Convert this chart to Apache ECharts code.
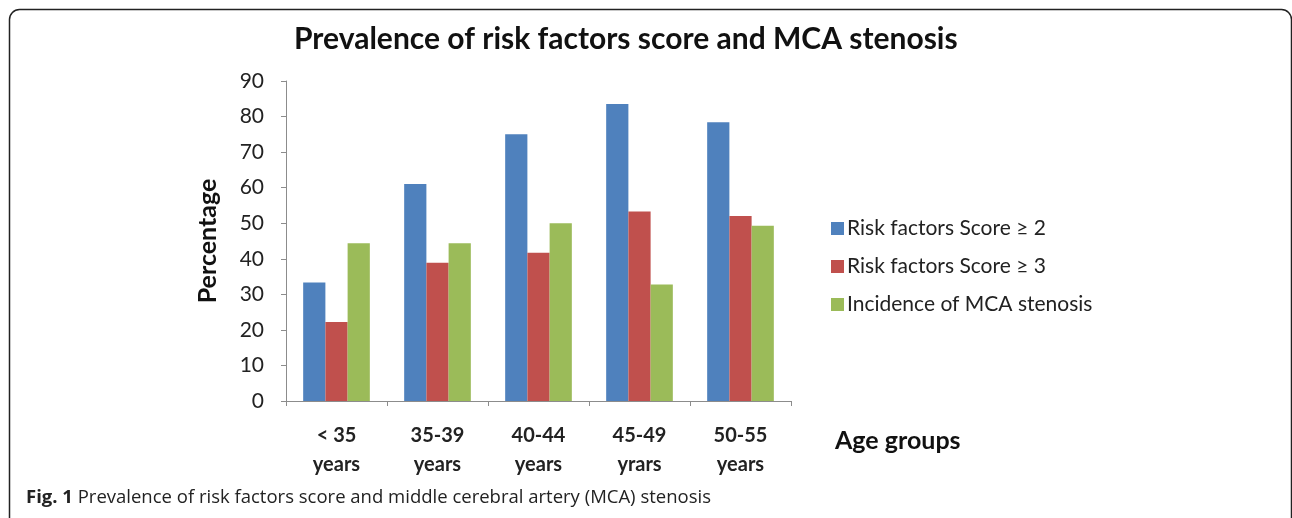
<!DOCTYPE html>
<html>
<head>
<meta charset="utf-8">
<style>
    html, body { margin: 0; padding: 0; background: #fff; }
    #chart { width: 1292px; height: 518px; }
</style>
<script src="https://cdn.jsdelivr.net/npm/echarts@6/dist/echarts.min.js"></script>
</head>
<body>
<div id="chart"></div>
<script>
// 数据
var ageGroups = ['< 35\nyears', '35-39\nyears', '40-44\nyears', '45-49\nyrars', '50-55\nyears'];
var seriesNames = ['Risk factors Score \u2265 2', 'Risk factors Score \u2265 3', 'Incidence of MCA stenosis'];
var score2 = [33.3, 61, 75, 83.5, 78.4];
var score3 = [22.2, 38.9, 41.7, 53.3, 52];
var mcaStenosis = [44.4, 44.4, 50, 32.8, 49.3];
var yTicks = { min: 0, max: 90, interval: 10 };

var font = 'Lato, "Open Sans", sans-serif';
var axisGray = '#8c8c8c';

function loadChart() {
    var myChart = echarts.init(document.getElementById('chart'), null, { renderer: 'canvas' });
    var option = {
        animation: false,
        backgroundColor: '#fff',
        color: ['#4f81bd', '#c0504d', '#9bbb59'],
        title: {
            text: 'Prevalence of risk factors score and MCA stenosis',
            left: 289,
            top: 19,
            textStyle: { fontFamily: font, fontSize: 30, fontWeight: 'bold', color: '#111' }
        },
        legend: {
            data: seriesNames,
            orient: 'vertical',
            left: 826,
            top: 213,
            itemWidth: 13,
            itemHeight: 13,
            itemGap: 17,
            icon: 'rect',
            textStyle: { fontFamily: font, fontSize: 21, color: '#222', padding: [0, 0, 0, -2] }
        },
        grid: { left: 286, right: 501, top: 81, bottom: 117, containLabel: false },
        xAxis: {
            type: 'category',
            data: ageGroups,
            axisLine: { lineStyle: { color: axisGray, width: 1 } },
            axisTick: { show: true, length: 5, lineStyle: { color: axisGray } },
            axisLabel: {
                fontFamily: font, fontSize: 20, fontWeight: 'bold', color: '#222',
                lineHeight: 29, margin: 20
            }
        },
        yAxis: {
            type: 'value',
            min: yTicks.min,
            max: yTicks.max,
            interval: yTicks.interval,
            name: 'Percentage',
            nameLocation: 'middle',
            nameGap: 66,
            nameTextStyle: { fontFamily: font, fontSize: 25, fontWeight: 'bold', color: '#111' },
            axisLine: { show: true, lineStyle: { color: axisGray, width: 1 } },
            axisTick: { show: true, length: 5, lineStyle: { color: axisGray } },
            splitLine: { show: false },
            axisLabel: { fontFamily: font, fontSize: 21, color: '#222', margin: 22 }
        },
        series: [{
            name: seriesNames[0],
            type: 'bar',
            data: score2,
            barGap: 0,
            barCategoryGap: '34%'
        }, {
            name: seriesNames[1],
            type: 'bar',
            data: score3
        }, {
            name: seriesNames[2],
            type: 'bar',
            data: mcaStenosis
        }],
        graphic: [{
            // 外框
            type: 'rect',
            shape: { x: 9.5, y: 9.5, width: 1282, height: 530, r: [10, 10, 0, 0] },
            style: { fill: 'none', stroke: '#222', lineWidth: 1.5 },
            silent: true
        }, {
            type: 'text',
            left: 835,
            top: 428,
            style: {
                text: 'Age groups',
                font: 'bold 25px ' + font,
                fill: '#111'
            }
        }, {
            type: 'text',
            left: 26,
            top: 488,
            style: {
                text: '{b|Fig. 1} Prevalence of risk factors score and middle cerebral artery (MCA) stenosis',
                font: '18.5px "Open Sans", sans-serif',
                fill: '#222',
                rich: {
                    b: { fontWeight: 'bold', fontSize: 18.5, fontFamily: '"Open Sans", sans-serif', fill: '#222' }
                }
            }
        }]
    };
    if (option && typeof option === 'object') {
        myChart.setOption(option, true);
    }
}

loadChart();
</script>
</body>
</html>
